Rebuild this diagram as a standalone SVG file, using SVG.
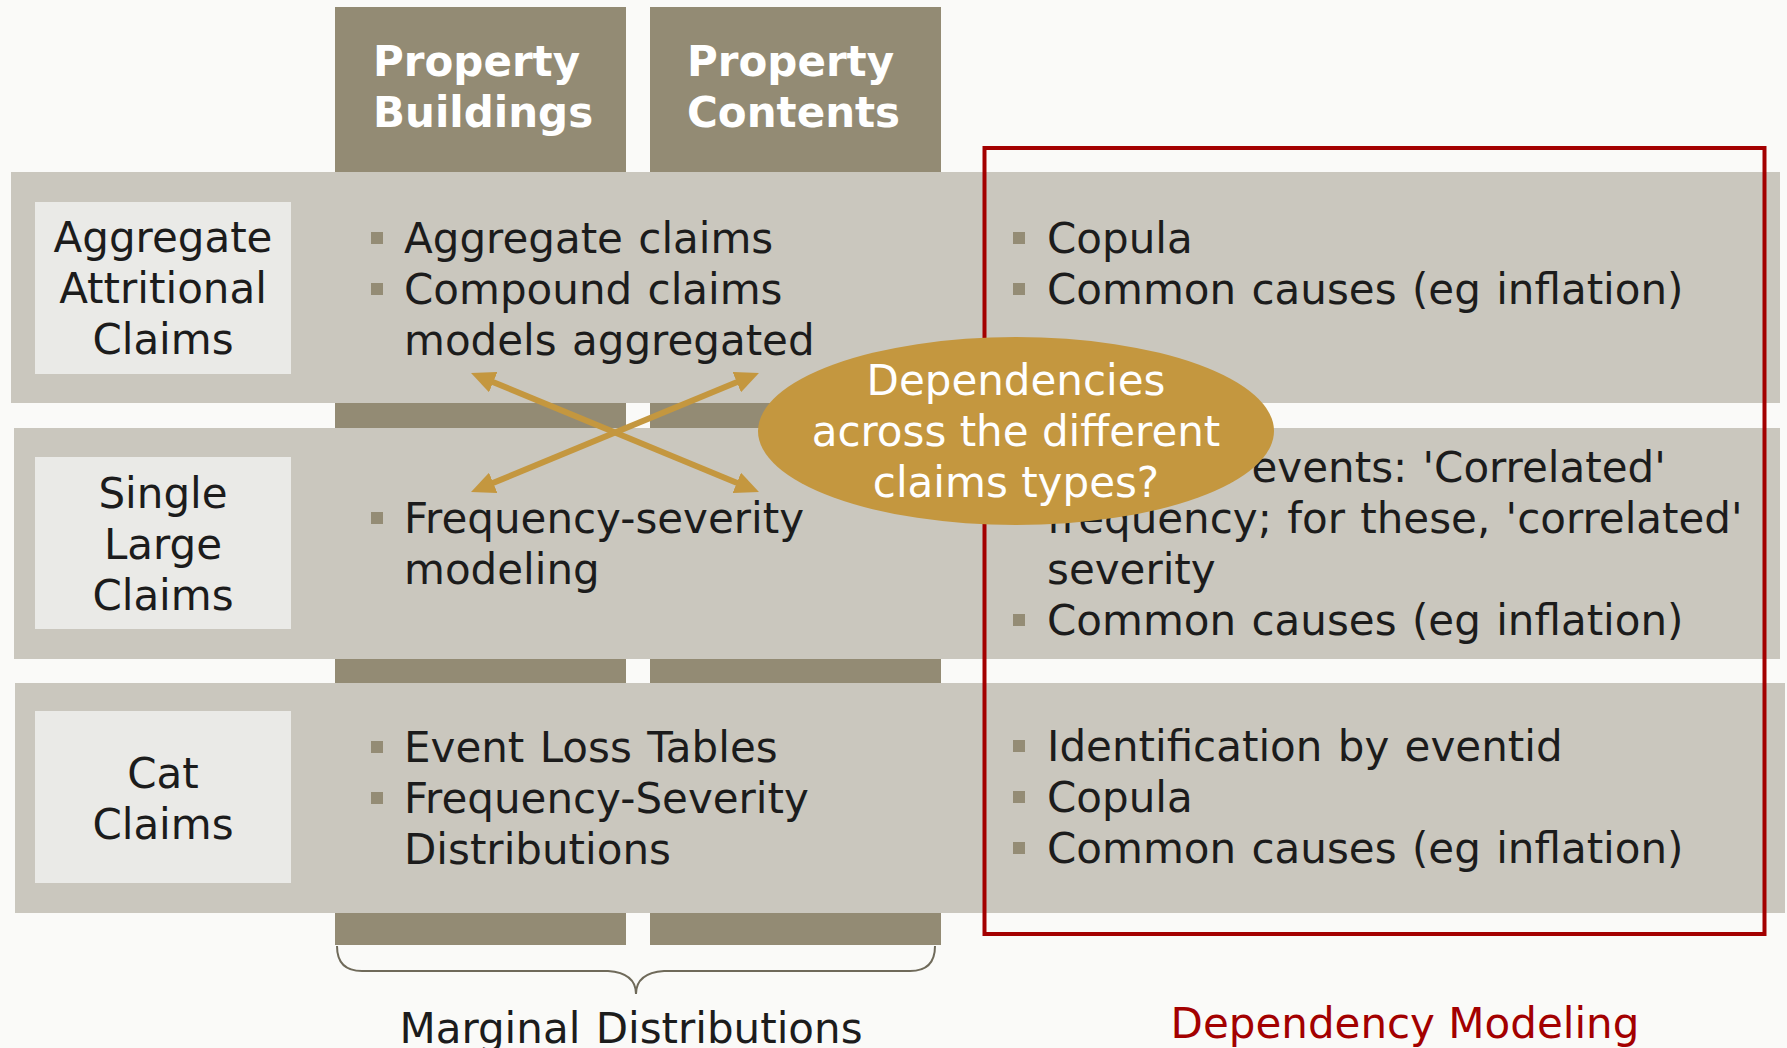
<svg xmlns="http://www.w3.org/2000/svg" width="1787" height="1048" viewBox="0 0 1787 1048">
<style>
text{font-family:"DejaVu Sans",Verdana,sans-serif;font-size:42px;fill:#1c1c1c}
.hd{font-weight:bold;font-size:42px;fill:#ffffff}
.col{fill:#938B74}
.band{fill:#CAC7BE}
.lbl{fill:#EAEAE7}
.lt{text-anchor:middle}
.bt{word-spacing:2px}
.bul{fill:#948C75}
.arr{stroke:#C4973F;stroke-width:6;fill:none}
.ell{fill:#C4973F}
.et{fill:#ffffff;text-anchor:middle}
.red{fill:none;stroke:#A30000;stroke-width:4}
.brace{fill:none;stroke:#6F6A5A;stroke-width:2}
</style>
<defs>
<marker id="ah" markerUnits="userSpaceOnUse" markerWidth="24" markerHeight="22" refX="9" refY="11" orient="auto-start-reverse">
<path d="M0,0 L24,11 L0,22 z" fill="#C4973F"/>
</marker>
</defs>
<rect x="0" y="0" width="1787" height="1048" fill="#FAFAF8"/>

<g id="col-buildings">
<rect class="col" x="335" y="7" width="291" height="938"/>
<text class="hd" x="373" y="76">Property</text>
<text class="hd" x="373" y="127">Buildings</text>
</g>
<g id="col-contents">
<rect class="col" x="650" y="7" width="291" height="938"/>
<text class="hd" x="687" y="76">Property</text>
<text class="hd" x="687" y="127">Contents</text>
</g>

<g id="row-aggregate">
<rect class="band" x="11" y="172" width="1769" height="231"/>
<rect class="lbl" x="35" y="202" width="256" height="172"/>
<text class="lt" x="163" y="252">Aggregate</text>
<text class="lt" x="163" y="303">Attritional</text>
<text class="lt" x="163" y="354">Claims</text>
<rect class="bul" x="371" y="232" width="12" height="12"/>
<text class="bt" x="404" y="253">Aggregate claims</text>
<rect class="bul" x="371" y="283" width="12" height="12"/>
<text class="bt" x="404" y="304">Compound claims</text>
<text class="bt" x="404" y="355">models aggregated</text>
<rect class="bul" x="1013" y="232" width="12" height="12"/>
<text class="bt" x="1047" y="253">Copula</text>
<rect class="bul" x="1013" y="283" width="12" height="12"/>
<text class="bt" x="1047" y="304">Common causes (eg inflation)</text>
</g>

<g id="row-single">
<rect class="band" x="14" y="428" width="1766" height="231"/>
<rect class="lbl" x="35" y="457" width="256" height="172"/>
<text class="lt" x="163" y="508">Single</text>
<text class="lt" x="163" y="559">Large</text>
<text class="lt" x="163" y="610">Claims</text>
<rect class="bul" x="371" y="512" width="12" height="12"/>
<text class="bt" x="404" y="533">Frequency-severity</text>
<text class="bt" x="404" y="584">modeling</text>
<rect class="bul" x="1013" y="461" width="12" height="12"/>
<text class="bt" x="1047" y="482">Common events: 'Correlated'</text>
<text class="bt" x="1047" y="533">frequency; for these, 'correlated'</text>
<text class="bt" x="1047" y="584">severity</text>
<rect class="bul" x="1013" y="614" width="12" height="12"/>
<text class="bt" x="1047" y="635">Common causes (eg inflation)</text>
</g>

<g id="row-cat">
<rect class="band" x="15" y="683" width="1770" height="230"/>
<rect class="lbl" x="35" y="711" width="256" height="172"/>
<text class="lt" x="163" y="788">Cat</text>
<text class="lt" x="163" y="839">Claims</text>
<rect class="bul" x="371" y="741" width="12" height="12"/>
<text class="bt" x="404" y="762">Event Loss Tables</text>
<rect class="bul" x="371" y="792" width="12" height="12"/>
<text class="bt" x="404" y="813">Frequency-Severity</text>
<text class="bt" x="404" y="864">Distributions</text>
<rect class="bul" x="1013" y="740" width="12" height="12"/>
<text class="bt" x="1047" y="761">Identification by eventid</text>
<rect class="bul" x="1013" y="791" width="12" height="12"/>
<text class="bt" x="1047" y="812">Copula</text>
<rect class="bul" x="1013" y="842" width="12" height="12"/>
<text class="bt" x="1047" y="863">Common causes (eg inflation)</text>
</g>

<g id="dependency-frame">
<rect class="red" x="984.5" y="148" width="780" height="786"/>
<text x="1405" y="1038" class="lt" style="fill:#A30000">Dependency Modeling</text>
</g>

<g id="connectors">
<line class="arr" x1="484.9" y1="378.7" x2="745.1" y2="486.3" marker-start="url(#ah)" marker-end="url(#ah)"/>
<line class="arr" x1="484.9" y1="486.3" x2="745.1" y2="378.7" marker-start="url(#ah)" marker-end="url(#ah)"/>
<path class="brace" d="M337,946 Q337,971 362,971 L608,971 Q636,973 636,994 Q636,973 664,971 L910,971 Q935,971 935,946"/>
</g>

<g id="marginal-label">
<text class="lt bt" x="631" y="1043">Marginal Distributions</text>
</g>

<g id="dependencies-bubble">
<ellipse class="ell" cx="1016" cy="431" rx="258" ry="94"/>
<text class="et" x="1016" y="395">Dependencies</text>
<text class="et" x="1016" y="446">across the different</text>
<text class="et" x="1016" y="497">claims types?</text>
</g>
</svg>
